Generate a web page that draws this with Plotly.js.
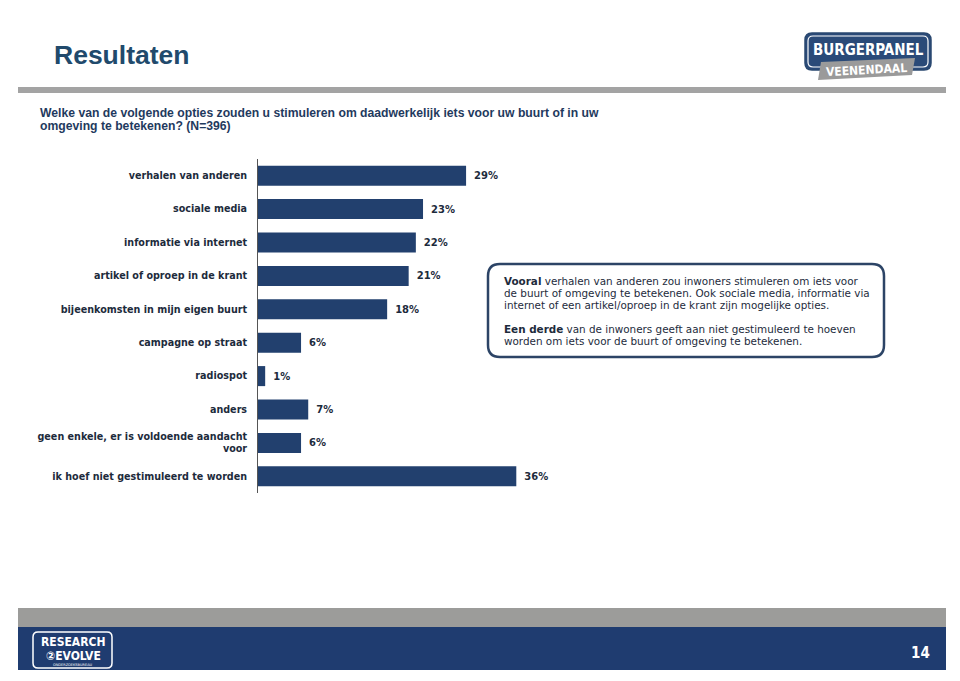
<!DOCTYPE html>
<html><head><meta charset="utf-8">
<script src="https://cdn.plot.ly/plotly-3.0.1.min.js"></script>
<style>html,body{margin:0;padding:0;background:#fff}#chart{width:960px;height:681px}</style>
</head><body><div id="chart"></div>
<script>
const categories = [
  "verhalen van anderen",
  "sociale media",
  "informatie via internet",
  "artikel of oproep in de krant",
  "bijeenkomsten in mijn eigen buurt",
  "campagne op straat",
  "radiospot",
  "anders",
  "geen enkele, er is voldoende aandacht<br>voor",
  "ik hoef niet gestimuleerd te worden"
];
const values = [29, 23, 22, 21, 18, 6, 1, 7, 6, 36];
const valueLabels = values.map(v => v + "%");
const pageTitle = "Resultaten";
const question = ["Welke van de volgende opties zouden u stimuleren om daadwerkelijk iets voor uw buurt of in uw", "omgeving te betekenen? (N=396)"];
const boxLines = [
  "<b>Vooral</b> verhalen van anderen zou inwoners stimuleren om iets voor",
  "de buurt of omgeving te betekenen. Ook sociale media, informatie via",
  "internet of een artikel/oproep in de krant zijn mogelijke opties.",
  "<b>Een derde</b> van de inwoners geeft aan niet gestimuleerd te hoeven",
  "worden om iets voor de buurt of omgeving te betekenen."
];
const pageNumber = "14";

const L = 258, R = 545, T = 159, B = 493;
const px = x => (x - L) / (R - L);
const py = y => (B - y) / (B - T);
const NAVY = "#22406e";

function rrect(x0, y0, x1, y1, r) {
  const X = v => px(v), Y = v => py(v);
  return `M ${X(x0 + r)} ${Y(y0)} L ${X(x1 - r)} ${Y(y0)} Q ${X(x1)} ${Y(y0)} ${X(x1)} ${Y(y0 + r)} ` +
    `L ${X(x1)} ${Y(y1 - r)} Q ${X(x1)} ${Y(y1)} ${X(x1 - r)} ${Y(y1)} L ${X(x0 + r)} ${Y(y1)} ` +
    `Q ${X(x0)} ${Y(y1)} ${X(x0)} ${Y(y1 - r)} L ${X(x0)} ${Y(y0 + r)} Q ${X(x0)} ${Y(y0)} ${X(x0 + r)} ${Y(y0)} Z`;
}

const shapes = [
  {type: "rect", xref: "paper", yref: "paper", x0: px(18), x1: px(946), y0: py(93), y1: py(87), fillcolor: "#a3a3a3", line: {width: 0}, layer: "below"},
  {type: "rect", xref: "paper", yref: "paper", x0: px(18), x1: px(946), y0: py(627), y1: py(608), fillcolor: "#9c9c9a", line: {width: 0}, layer: "below"},
  {type: "rect", xref: "paper", yref: "paper", x0: px(18), x1: px(946), y0: py(670), y1: py(627), fillcolor: "#1f3c70", line: {width: 0}, layer: "below"},
  {type: "path", xref: "paper", yref: "paper", path: rrect(488, 264, 884, 357, 12), line: {color: "#2c4466", width: 2.5}, fillcolor: "rgba(0,0,0,0)"},
  {type: "path", xref: "paper", yref: "paper", path: rrect(805, 33, 931, 70, 7), line: {color: "#2a4870", width: 1.5}, fillcolor: "#2a4a78"},
  {type: "path", xref: "paper", yref: "paper", path: rrect(808, 36, 928, 67, 5), line: {color: "#ffffff", width: 1.2}, fillcolor: "rgba(0,0,0,0)"},
  {type: "path", xref: "paper", yref: "paper", path: `M ${px(818)} ${py(80)} L ${px(912)} ${py(75)} L ${px(915)} ${py(58)} L ${px(821)} ${py(62)} Z`, line: {width: 0}, fillcolor: "#9a9a9a"},
  {type: "path", xref: "paper", yref: "paper", path: rrect(33, 632, 112, 668, 5), line: {color: "#ffffff", width: 1.5}, fillcolor: "rgba(0,0,0,0)"}
];

const annotations = [
  {xref: "paper", yref: "paper", x: px(52), y: py(55), xanchor: "left", yanchor: "middle", text: "<b>" + pageTitle + "</b>", showarrow: false, font: {family: "Liberation Sans, Arial", size: 26.5, color: "#214a6c"}},
  {xref: "paper", yref: "paper", x: px(38), y: py(113), xanchor: "left", yanchor: "middle", text: "<b>" + question[0] + "</b>", showarrow: false, font: {family: "Liberation Sans, Arial", size: 12.2, color: "#1f3a5e"}},
  {xref: "paper", yref: "paper", x: px(38), y: py(126), xanchor: "left", yanchor: "middle", text: "<b>" + question[1] + "</b>", showarrow: false, font: {family: "Liberation Sans, Arial", size: 12.2, color: "#1f3a5e"}},
  {xref: "paper", yref: "paper", x: px(868), y: py(50), xanchor: "center", yanchor: "middle", text: "<b>BURGERPANEL</b>", showarrow: false, font: {family: "DejaVu Sans Condensed, Liberation Sans Narrow", size: 15, color: "#ffffff"}},
  {xref: "paper", yref: "paper", x: px(866), y: py(70), xanchor: "center", yanchor: "middle", text: "<b>VEENENDAAL</b>", showarrow: false, textangle: -3, font: {family: "DejaVu Sans Condensed, Liberation Sans Narrow", size: 12, color: "#ffffff"}},
  {xref: "paper", yref: "paper", x: px(73), y: py(642), xanchor: "center", yanchor: "middle", text: "<b>RESEARCH</b>", showarrow: false, font: {family: "DejaVu Sans Condensed, Liberation Sans Narrow", size: 12, color: "#ffffff"}},
  {xref: "paper", yref: "paper", x: px(73), y: py(656), xanchor: "center", yanchor: "middle", text: "<b>②EVOLVE</b>", showarrow: false, font: {family: "DejaVu Sans Condensed, Liberation Sans Narrow", size: 12, color: "#ffffff"}},
  {xref: "paper", yref: "paper", x: px(73), y: py(665), xanchor: "center", yanchor: "middle", text: "ONDERZOEKSBUREAU", showarrow: false, font: {family: "DejaVu Sans", size: 3.5, color: "#ffffff"}},
  {xref: "paper", yref: "paper", x: px(932), y: py(653), xanchor: "right", yanchor: "middle", text: "<b>" + pageNumber + "</b>", showarrow: false, font: {family: "DejaVu Sans Condensed, Liberation Sans", size: 15, color: "#ffffff"}}
];
const boxY = [281, 293, 305, 329, 341];
boxLines.forEach((t, i) => annotations.push({xref: "paper", yref: "paper", x: px(502), y: py(boxY[i]), xanchor: "left", yanchor: "middle", text: t, showarrow: false, font: {family: "DejaVu Sans, Verdana", size: 10.4, color: "#1d2b3c"}}));

const trace = {
  type: "bar", orientation: "h", y: categories, x: values,
  marker: {color: NAVY, line: {width: 0}}, width: 0.6,
  text: valueLabels, texttemplate: "\u2002%{text}", textposition: "outside", cliponaxis: false,
  textfont: {family: "DejaVu Sans, Verdana", size: 10, color: "#1d2b3c", weight: "bold"},
  hoverinfo: "skip"
};

const layout = {
  width: 960, height: 681,
  margin: {l: L, r: 960 - R, t: T, b: 681 - B, pad: 0},
  paper_bgcolor: "#ffffff", plot_bgcolor: "#ffffff",
  showlegend: false,
  xaxis: {range: [0, 40], visible: false, fixedrange: true},
  yaxis: {autorange: "reversed", showline: true, linecolor: "#555555", linewidth: 1, ticks: "", showgrid: false,
          ticklabelstandoff: 8,
          tickfont: {family: "DejaVu Sans, Verdana", size: 9.6, color: "#1d2b3c", weight: "bold"}},
  shapes: shapes, annotations: annotations,
  font: {family: "DejaVu Sans, Verdana"}
};
Plotly.newPlot("chart", [trace], layout, {displayModeBar: false, staticPlot: true});
</script></body></html>
